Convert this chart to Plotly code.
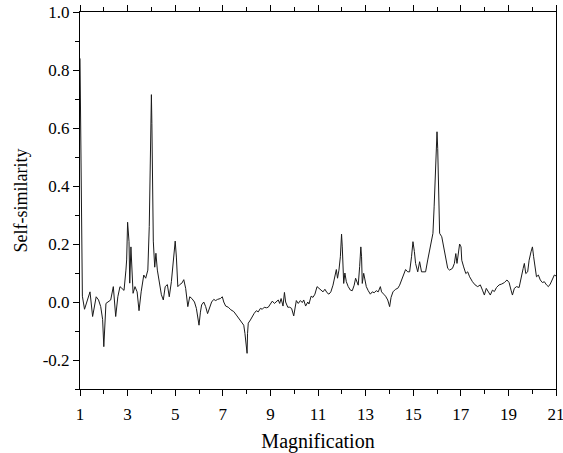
import plotly.graph_objects as go

# Magnification values (vertices)
magnification = [
    1.00, 1.03, 1.06, 1.10, 1.19, 1.31, 1.42, 1.53, 1.61, 1.68, 1.78, 1.87, 1.95, 2.00, 2.09, 2.17,
    2.29, 2.40, 2.50, 2.59, 2.68, 2.76, 2.85, 2.93, 2.96, 3.00, 3.06, 3.09, 3.14, 3.23, 3.31, 3.40,
    3.48, 3.57, 3.68, 3.76, 3.85, 3.91, 3.95, 4.00, 4.02, 4.04, 4.08, 4.14, 4.19, 4.25, 4.33, 4.42,
    4.50, 4.58, 4.67, 4.75, 4.84, 4.92, 5.00, 5.05, 5.11, 5.19, 5.28, 5.36, 5.44, 5.53, 5.61, 5.70,
    5.81, 5.89, 5.95, 6.00, 6.06, 6.11, 6.20, 6.28, 6.36, 6.45, 6.53, 6.62, 6.70, 6.78, 6.90, 6.98,
    7.04, 7.12, 7.23, 7.34, 7.46, 7.57, 7.68, 7.79, 7.88, 7.93, 7.99, 8.02, 8.04, 8.07, 8.16, 8.24,
    8.32, 8.41, 8.49, 8.58, 8.66, 8.74, 8.83, 8.91, 9.00, 9.08, 9.17, 9.25, 9.33, 9.39, 9.45, 9.53,
    9.59, 9.64, 9.73, 9.81, 9.89, 9.98, 10.03, 10.09, 10.17, 10.26, 10.34, 10.40, 10.48, 10.57,
    10.62, 10.71, 10.79, 10.87, 10.96, 11.04, 11.12, 11.21, 11.29, 11.38, 11.46, 11.54, 11.63,
    11.71, 11.77, 11.82, 11.88, 11.94, 11.99, 12.02, 12.05, 12.08, 12.13, 12.19, 12.27, 12.36,
    12.44, 12.52, 12.58, 12.64, 12.69, 12.75, 12.80, 12.83, 12.86, 12.92, 12.97, 13.03, 13.11,
    13.20, 13.28, 13.36, 13.45, 13.53, 13.62, 13.67, 13.76, 13.84, 13.93, 14.01, 14.07, 14.15,
    14.26, 14.35, 14.43, 14.51, 14.60, 14.68, 14.77, 14.85, 14.93, 14.99, 15.05, 15.10, 15.19,
    15.27, 15.35, 15.44, 15.52, 15.61, 15.69, 15.77, 15.83, 15.88, 15.92, 15.95, 16.00, 16.03,
    16.06, 16.09, 16.11, 16.20, 16.28, 16.37, 16.45, 16.53, 16.65, 16.73, 16.79, 16.84, 16.90,
    16.95, 17.01, 17.04, 17.12, 17.21, 17.29, 17.37, 17.49, 17.60, 17.71, 17.82, 17.91, 17.99,
    18.07, 18.16, 18.24, 18.33, 18.41, 18.50, 18.61, 18.72, 18.83, 18.94, 19.03, 19.11, 19.17,
    19.25, 19.34, 19.45, 19.53, 19.62, 19.67, 19.73, 19.81, 19.87, 19.95, 20.01, 20.06, 20.12,
    20.18, 20.26, 20.34, 20.43, 20.51, 20.60, 20.68, 20.76, 20.85, 20.93, 21.00,
]

# Self-similarity values
self_similarity = [
    0.84, 0.51, 0.19, 0.02, -0.025, 0.007, 0.035, -0.05, -0.01, 0.018, 0.007, -0.016, -0.06, -0.154, -0.005, 0.0,
    0.007, 0.053, -0.05, 0.018, 0.053, 0.047, 0.04, 0.11, 0.145, 0.275, 0.208, 0.065, 0.19, 0.03, 0.053, 0.035,
    -0.03, 0.035, 0.093, 0.082, 0.11, 0.26, 0.56, 0.715, 0.615, 0.41, 0.21, 0.12, 0.168, 0.11, 0.065, 0.025,
    0.007, 0.053, 0.06, 0.018, 0.07, 0.13, 0.21, 0.155, 0.053, 0.06, 0.065, 0.077, 0.047, -0.016, 0.018, 0.012,
    0.0, -0.022, -0.05, -0.08, -0.035, -0.01, 0.0, -0.016, -0.04, -0.018, 0.0, 0.009, 0.005, 0.009, 0.012, 0.018,
    0.0, -0.014, -0.018, -0.027, -0.033, -0.045, -0.056, -0.068, -0.08, -0.108, -0.16, -0.177, -0.108, -0.073, -0.062, -0.05,
    -0.039, -0.03, -0.034, -0.022, -0.025, -0.018, -0.02, -0.018, -0.007, 0.003, -0.005, 0.0, 0.007, -0.005, 0.012, -0.014,
    0.033, 0.0, -0.018, -0.018, -0.022, -0.048, -0.022, 0.005, -0.005, 0.005, -0.002, 0.007, -0.014, 0.0,
    -0.007, 0.02, 0.016, 0.027, 0.053, 0.047, 0.039, 0.035, 0.044, 0.032, 0.027, 0.035, 0.058,
    0.093, 0.112, 0.082, 0.11, 0.156, 0.234, 0.19, 0.133, 0.064, 0.10, 0.07, 0.053, 0.041,
    0.039, 0.058, 0.082, 0.07, 0.058, 0.122, 0.19, 0.156, 0.064, 0.099, 0.082, 0.053, 0.039,
    0.027, 0.035, 0.032, 0.039, 0.035, 0.053, 0.035, 0.027, 0.02, 0.007, -0.016, 0.016, 0.035,
    0.044, 0.047, 0.058, 0.075, 0.093, 0.112, 0.104, 0.104, 0.156, 0.208, 0.174, 0.133, 0.104,
    0.139, 0.104, 0.104, 0.104, 0.145, 0.179, 0.214, 0.237, 0.328, 0.409, 0.50, 0.587, 0.53,
    0.409, 0.294, 0.237, 0.225, 0.19, 0.144, 0.116, 0.11, 0.116, 0.133, 0.167, 0.133, 0.173,
    0.20, 0.19, 0.144, 0.121, 0.098, 0.104, 0.087, 0.07, 0.059, 0.053, 0.059, 0.041, 0.024,
    0.047, 0.036, 0.024, 0.041, 0.036, 0.05, 0.059, 0.062, 0.067, 0.076, 0.067, 0.041, 0.024,
    0.047, 0.053, 0.05, 0.076, 0.116, 0.133, 0.098, 0.104, 0.144, 0.173, 0.19, 0.156, 0.121,
    0.087, 0.093, 0.076, 0.067, 0.07, 0.059, 0.053, 0.062, 0.076, 0.093, 0.09,
]

x_ticks = [1, 3, 5, 7, 9, 11, 13, 15, 17, 19, 21]
y_ticks = [-0.2, 0.0, 0.2, 0.4, 0.6, 0.8, 1.0]
y_tick_labels = ["-0.2", "0.0", "0.2", "0.4", "0.6", "0.8", "1.0"]

fig = go.Figure()
fig.add_trace(go.Scatter(
    x=magnification, y=self_similarity, mode="lines",
    line=dict(color="#1a1a1a", width=1),
    showlegend=False, hoverinfo="skip",
))

font_family = "Liberation Serif, Times New Roman, serif"

fig.update_layout(
    width=563, height=453,
    margin=dict(l=80, r=7, t=12, b=64, autoexpand=False),
    paper_bgcolor="white", plot_bgcolor="white",
    font=dict(family=font_family, size=17, color="black"),
    xaxis=dict(
        range=[1, 21], tickmode="array", tickvals=x_ticks,
        ticktext=[str(t) for t in x_ticks],
        ticks="outside", ticklen=6, tickwidth=1, tickcolor="black",
        minor=dict(dtick=1, tick0=1, ticks="outside", ticklen=4, tickcolor="black", showgrid=False),
        showline=True, linecolor="black", linewidth=1, mirror="ticks",
        showgrid=False, zeroline=False, automargin=False,
        tickfont=dict(size=17), ticklabelstandoff=4, ticklabeloverflow="allow",
        title=dict(text="Magnification", font=dict(size=20), standoff=12),
    ),
    yaxis=dict(
        range=[-0.3, 1.0], tickmode="array", tickvals=y_ticks, ticktext=y_tick_labels,
        ticks="outside", ticklen=6, tickwidth=1, tickcolor="black",
        minor=dict(dtick=0.1, tick0=0, ticks="outside", ticklen=4, tickcolor="black", showgrid=False),
        showline=True, linecolor="black", linewidth=1, mirror=True,
        showgrid=False, zeroline=False, automargin=False,
        tickfont=dict(size=17), ticklabeloverflow="allow",
        title=dict(text="Self-similarity", font=dict(size=18), standoff=10),
    ),
)

fig.write_html(
    "out.html",
    config={"displayModeBar": False, "staticPlot": True},
    post_script="document.body.style.margin='0px';",
)
